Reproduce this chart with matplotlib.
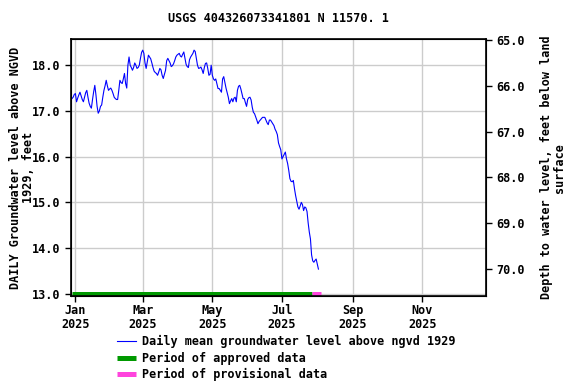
import numpy as np
import pandas as pd
import matplotlib
matplotlib.use("Agg")
import matplotlib.pyplot as plt
import matplotlib.dates as mdates

# daily mean groundwater level, feet above NGVD 1929
start = "2024-12-29"
level = [
    17.27, 17.30, 17.36,
    # Jan
    17.38, 17.20, 17.28, 17.35, 17.41, 17.33, 17.25, 17.20, 17.30, 17.40,
    17.45, 17.30, 17.17, 17.10, 17.06, 17.25, 17.42, 17.56, 17.35, 17.10,
    16.95, 17.00, 17.10, 17.13, 17.30, 17.45, 17.55, 17.67, 17.55, 17.45,
    17.48,
    # Feb
    17.50, 17.45, 17.38, 17.30, 17.27, 17.25, 17.25, 17.45, 17.67, 17.62,
    17.60, 17.70, 17.82, 17.60, 17.50, 18.00, 18.18, 18.00, 17.95, 17.89,
    17.95, 18.05, 18.00, 17.93, 17.95, 18.00, 18.15, 18.28,
    # Mar
    18.33, 18.26, 18.05, 17.93, 18.08, 18.22, 18.18, 18.14, 18.05, 17.95,
    17.87, 17.84, 17.82, 17.78, 17.85, 17.93, 17.90, 17.78, 17.71, 17.80,
    17.89, 18.10, 18.15, 18.10, 18.05, 17.97, 17.99, 18.03, 18.10, 18.18,
    18.22,
    # Apr
    18.24, 18.26, 18.20, 18.18, 18.24, 18.29, 18.15, 18.02, 17.97, 17.95,
    18.12, 18.18, 18.22, 18.26, 18.33, 18.30, 18.15, 18.00, 17.93, 17.94,
    17.96, 17.90, 17.82, 17.95, 18.04, 18.05, 17.93, 17.78, 17.80, 18.00,
    # May
    17.78, 17.70, 17.67, 17.70, 17.60, 17.49, 17.49, 17.45, 17.41, 17.70,
    17.75, 17.62, 17.50, 17.40, 17.30, 17.16, 17.22, 17.27, 17.20, 17.28,
    17.30, 17.20, 17.45, 17.54, 17.56, 17.48, 17.38, 17.27, 17.27, 17.18,
    17.10,
    # Jun
    17.25, 17.29, 17.30, 17.24, 17.08, 16.97, 16.94, 16.87, 16.80, 16.72,
    16.77, 16.80, 16.83, 16.86, 16.86, 16.86, 16.80, 16.74, 16.70, 16.80,
    16.80, 16.76, 16.72, 16.68, 16.60, 16.55, 16.48, 16.30, 16.22, 16.15,
    # Jul
    15.95, 16.00, 16.05, 16.10, 15.95, 15.85, 15.70, 15.52, 15.46, 15.45,
    15.48, 15.30, 15.15, 15.02, 14.90, 14.85, 14.92, 15.00, 14.95, 14.82,
    14.90, 14.88, 14.80, 14.55, 14.35, 14.20, 13.85, 13.72, 13.69, 13.73,
    13.76,
    # Aug
    13.65, 13.54,
]
dates = pd.date_range(start, periods=len(level), freq="D")

approved = ["2024-12-29", "2025-07-27"]
provisional = ["2025-07-27", "2025-08-04"]

title = "USGS 404326073341801 N 11570. 1"
offset = 83.55  # depth below land surface = offset - level

mono = {"family": "DejaVu Sans Mono", "weight": "bold", "size": 8.5}
fp = matplotlib.font_manager.FontProperties(**mono)

fig = plt.figure(figsize=(5.76, 3.84), dpi=100)
ax = fig.add_axes([0.123, 0.229, 0.721, 0.669])

ax.plot(dates, level, color="#0000ff", lw=0.8, label="Daily mean groundwater level above ngvd 1929")
ax.plot(pd.to_datetime(approved), [13.0, 13.0], color="#009900", lw=3.6,
        solid_capstyle="butt", label="Period of approved data")
ax.plot(pd.to_datetime(provisional), [13.0, 13.0], color="#ff44dd", lw=3.6,
        solid_capstyle="butt", label="Period of provisional data")

ax.set_xlim(pd.Timestamp("2024-12-28"), pd.Timestamp("2025-12-27"))
ax.set_ylim(12.95, 18.57)
ax.set_yticks([13, 14, 15, 16, 17, 18])
ax.yaxis.set_major_formatter(matplotlib.ticker.FormatStrFormatter("%.1f"))
ax.xaxis.set_major_locator(mdates.MonthLocator(bymonth=[1, 3, 5, 7, 9, 11]))
ax.xaxis.set_major_formatter(mdates.DateFormatter("%b\n%Y"))
ax.grid(True, color="#cccccc", lw=1)
ax.set_axisbelow(True)
for s in ax.spines.values():
    s.set_linewidth(1.2)

for lab in ax.get_xticklabels() + ax.get_yticklabels():
    lab.set_fontproperties(fp)
for lab in ax.get_xticklabels():
    lab.set_linespacing(1.05)
ax.tick_params(length=4, width=1)
ax.tick_params(axis="x", pad=2)
ax.set_ylabel("DAILY Groundwater level above NGVD\n1929, feet", fontdict=mono,
              linespacing=1.0, labelpad=-2)

ax2 = ax.twinx()
ax2.set_ylim(offset - 12.95, offset - 18.57)
ax2.set_yticks([65, 66, 67, 68, 69, 70])
ax2.yaxis.set_major_formatter(matplotlib.ticker.FormatStrFormatter("%.1f"))
for lab in ax2.get_yticklabels():
    lab.set_fontproperties(fp)
ax2.tick_params(length=4, width=1)
ax2.set_ylabel("Depth to water level, feet below land\nsurface", fontdict=mono,
               linespacing=1.0, labelpad=11)

fig.text(0.5 * (0.123 + 0.844), 0.952, title, ha="center", va="center", fontdict=mono)

leg = fig.legend(loc="upper left", bbox_to_anchor=(0.203, 0.127), frameon=False,
                 prop=fp, handlelength=1.65, handletextpad=0.45, labelspacing=0.28,
                 borderaxespad=0, borderpad=0)

fig.savefig("out.png", dpi=100)
